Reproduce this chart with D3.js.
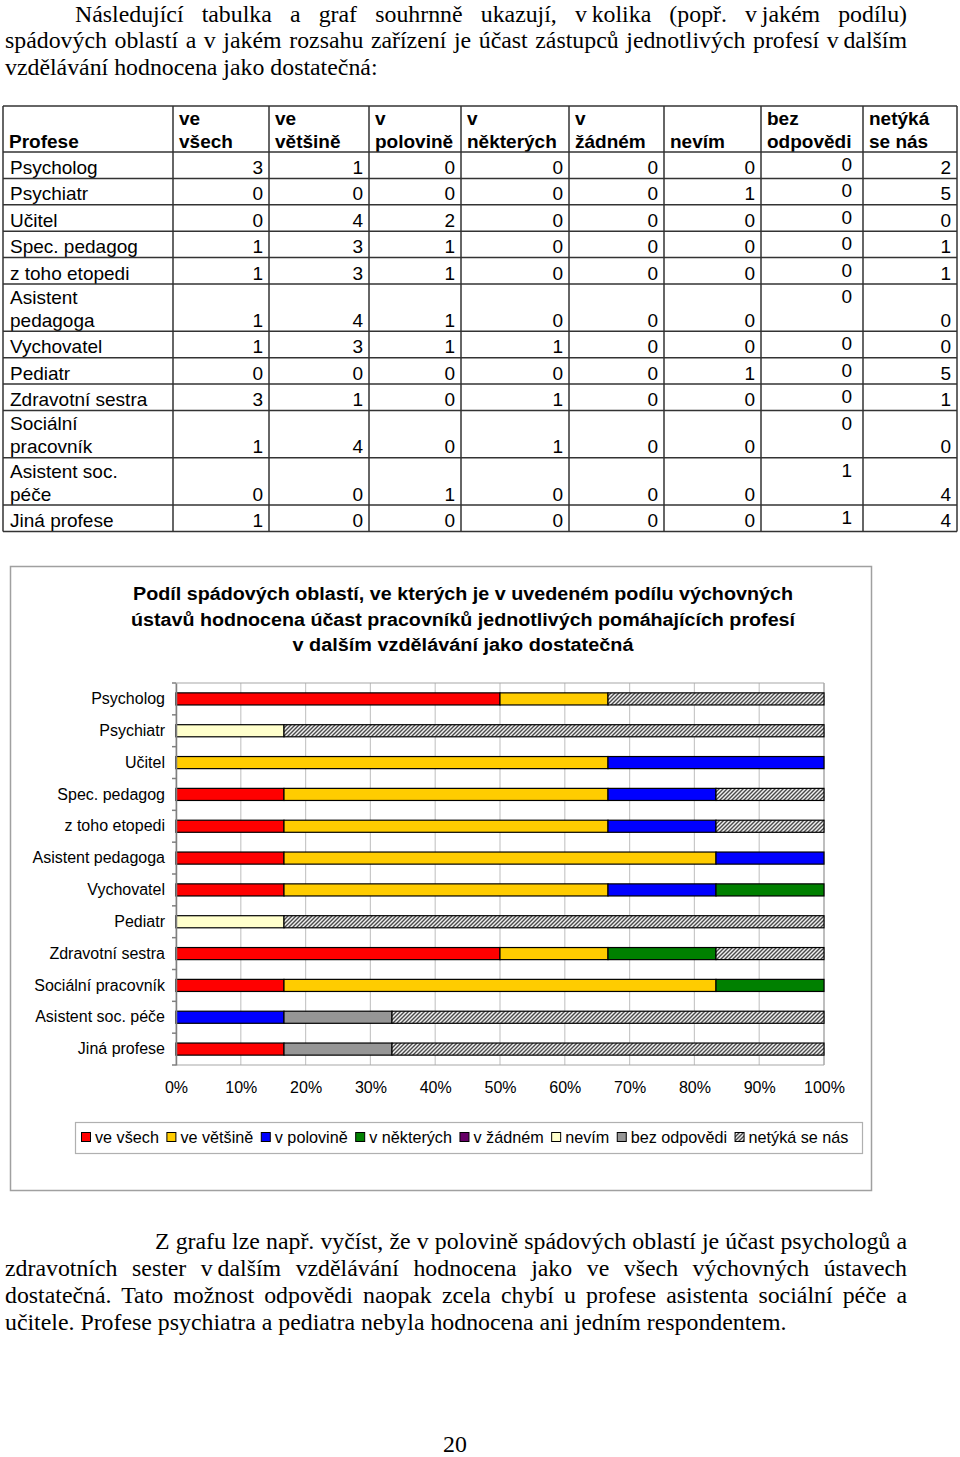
<!DOCTYPE html>
<html><head><meta charset="utf-8">
<script src="https://cdn.jsdelivr.net/npm/d3@7/dist/d3.min.js"></script>
<style>
html,body{margin:0;padding:0;background:#fff;}
svg{display:block;}
</style></head>
<body>
<svg id="page" width="960" height="1457"></svg>
<script>
// ---------- DATA ----------
const professions = ["Psycholog","Psychiatr","Učitel","Spec. pedagog","z toho etopedi","Asistent pedagoga","Vychovatel","Pediatr","Zdravotní sestra","Sociální pracovník","Asistent soc. péče","Jiná profese"];
const tableLabels = [["Psycholog"],["Psychiatr"],["Učitel"],["Spec. pedagog"],["z toho etopedi"],["Asistent","pedagoga"],["Vychovatel"],["Pediatr"],["Zdravotní sestra"],["Sociální","pracovník"],["Asistent soc.","péče"],["Jiná profese"]];
const seriesNames = ["ve všech","ve většině","v polovině","v některých","v žádném","nevím","bez odpovědi","netýká se nás"];
const headerLines = [["Profese"],["ve","všech"],["ve","většině"],["v","polovině"],["v","některých"],["v","žádném"],["nevím"],["bez","odpovědi"],["netýká","se nás"]];
const veVsech     = [3,0,0,1,1,1,1,0,3,1,0,1];
const veVetsine   = [1,0,4,3,3,4,3,0,1,4,0,0];
const vPolovine   = [0,0,2,1,1,1,1,0,0,0,1,0];
const vNekterych  = [0,0,0,0,0,0,1,0,1,1,0,0];
const vZadnem     = [0,0,0,0,0,0,0,0,0,0,0,0];
const nevim       = [0,1,0,0,0,0,0,1,0,0,0,0];
const bezOdpovedi = [0,0,0,0,0,0,0,0,0,0,1,1];
const netykaSeNas = [2,5,0,1,1,0,0,5,1,0,4,4];
const seriesValues = [veVsech,veVetsine,vPolovine,vNekterych,vZadnem,nevim,bezOdpovedi,netykaSeNas];
const seriesColors = ["#ff0000","#ffcc00","#0000ff","#008000","#660066","#ffffcc","#969696","url(#hatch)"];
const xTicks = [0,0.1,0.2,0.3,0.4,0.5,0.6,0.7,0.8,0.9,1];
const chartTitle = ["Podíl spádových oblastí, ve kterých je v uvedeném podílu výchovných","ústavů hodnocena účast pracovníků jednotlivých pomáhajících profesí","v dalším vzdělávání jako dostatečná"];
const para1 = ["Následující tabulka a graf souhrnně ukazují, v\u2009kolika (popř. v\u2009jakém podílu)","spádových oblastí a v jakém rozsahu zařízení je účast zástupců jednotlivých profesí v\u2009dalším","vzdělávání hodnocena jako dostatečná:"];
const para2 = ["Z grafu lze např. vyčíst, že v polovině spádových oblastí je účast psychologů a","zdravotních sester v\u2009dalším vzdělávání hodnocena jako ve všech výchovných ústavech","dostatečná. Tato možnost odpovědi naopak zcela chybí u profese asistenta sociální péče a","učitele. Profese psychiatra a pediatra nebyla hodnocena ani jedním respondentem."];

const svg = d3.select("#page");
const defs = svg.append("defs");
const pat = defs.append("pattern").attr("id","hatch").attr("patternUnits","userSpaceOnUse")
  .attr("width",4).attr("height",4);
pat.append("rect").attr("width",4).attr("height",4).attr("fill","#f0f0f0");
pat.append("path").attr("d","M-1,1 L1,-1 M0,4 L4,0 M3,5 L5,3").attr("stroke","#4a4a4a").attr("stroke-width",1.4);

// ---------- SERIF TEXT ----------
const serif = "'Liberation Serif','Times New Roman',serif";
const fs = 23.5;
function measure(txt){
  const t = svg.append("text").attr("font-family",serif).attr("font-size",fs).text(txt);
  const w = t.node().getComputedTextLength(); t.remove(); return w;
}
const sx = 782 / measure(para2[3]);
function serifLine(txt, x, y, target){
  const g = svg.append("g").attr("transform",`translate(${x},${y}) scale(${sx},1)`);
  const t = g.append("text").attr("font-family",serif).attr("font-size",fs).attr("fill","#000").text(txt);
  if(target){
    const nat = t.node().getComputedTextLength();
    const n = (txt.match(/ /g)||[]).length;
    t.attr("word-spacing",(target/sx - nat)/n);
  }
}
serifLine(para1[0],75,21.5,832);
serifLine(para1[1],5,48,902);
serifLine(para1[2],5,75,null);
serifLine(para2[0],155,1249,752);
serifLine(para2[1],5,1276,902);
serifLine(para2[2],5,1303,902);
serifLine(para2[3],5,1330,null);
svg.append("g").attr("transform",`translate(455,1452) scale(${sx},1)`).append("text")
  .attr("font-family",serif).attr("font-size",fs).attr("text-anchor","middle").text("20");

// ---------- TABLE ----------
const sans = "Arial,'Liberation Sans',sans-serif";
const colX = [3,173,269,369,461,569,664,761,863,957];
const headTop = 106, headBot = 152;
const rowH = tableLabels.map(l => l.length>1 ? 47.3 : 26.4);
const rowY = [headBot]; rowH.forEach((h,i)=>rowY.push(rowY[i]+h));
const tb = svg.append("g");
headerLines.forEach((lines,c)=>{
  lines.forEach((ln,k)=>{
    const base = headBot - 4 - (lines.length-1-k)*23;
    tb.append("text").attr("x",colX[c]+6).attr("y",base).attr("font-family",sans)
      .attr("font-weight","bold").attr("font-size",19).text(ln);
  });
});
tableLabels.forEach((lines,r)=>{
  const bot = rowY[r+1], top = rowY[r];
  lines.forEach((ln,k)=>{
    tb.append("text").attr("x",colX[0]+7).attr("y",bot-4.5-(lines.length-1-k)*23)
      .attr("font-family",sans).attr("font-size",19).text(ln);
  });
  seriesValues.forEach((vals,c)=>{
    const isBez = c===6;
    tb.append("text").attr("x",colX[c+2]-(isBez?11:6)).attr("y",isBez? top+19 : bot-4.5)
      .attr("text-anchor","end").attr("font-family",sans).attr("font-size",19).text(vals[r]);
  });
});
const tLines = tb.append("g").attr("stroke","#333").attr("stroke-width",1.5);
colX.forEach(x=>tLines.append("line").attr("x1",x).attr("x2",x).attr("y1",headTop).attr("y2",rowY[rowY.length-1]));
[headTop].concat(rowY).forEach(y=>tLines.append("line").attr("x1",colX[0]).attr("x2",colX[colX.length-1]).attr("y1",y).attr("y2",y));

// ---------- CHART ----------
svg.append("rect").attr("x",10.5).attr("y",566.5).attr("width",861).attr("height",624)
  .attr("fill","#fff").attr("stroke","#a0a0a0").attr("stroke-width",1.5);
const titleW = [660,664,341], titleY = [600,626,651];
chartTitle.forEach((t,i)=>{
  svg.append("text").attr("x",463).attr("y",titleY[i]).attr("text-anchor","middle")
    .attr("font-family",sans).attr("font-weight","bold").attr("font-size",18)
    .attr("textLength",titleW[i]).attr("lengthAdjust","spacingAndGlyphs").text(t);
});
const x = d3.scaleLinear().domain([0,1]).range([176,824]);
const y = d3.scaleBand().domain(professions).range([683,1065]).paddingInner(0.62).paddingOuter(0.31);
const plot = svg.append("g");
plot.selectAll("line.grid").data(xTicks).join("line").attr("class","grid")
  .attr("x1",d=>x(d)).attr("x2",d=>x(d)).attr("y1",683).attr("y2",1065)
  .attr("stroke","#c8c8c8").attr("stroke-width",1.2);
plot.append("line").attr("x1",x(0)).attr("x2",x(1)).attr("y1",683).attr("y2",683).attr("stroke","#a8a8a8").attr("stroke-width",1.2);
plot.append("line").attr("x1",x(0)).attr("x2",x(1)).attr("y1",1065).attr("y2",1065).attr("stroke","#a8a8a8").attr("stroke-width",1.2);
plot.append("line").attr("x1",x(1)).attr("x2",x(1)).attr("y1",683).attr("y2",1065).attr("stroke","#a8a8a8").attr("stroke-width",1.2);

const rows = professions.map((p,i)=>{
  const o = {prof:p}; let tot=0;
  seriesNames.forEach((s,k)=>{o[s]=seriesValues[k][i]; tot+=seriesValues[k][i];});
  seriesNames.forEach(s=>o[s]/=tot);
  return o;
});
const stack = d3.stack().keys(seriesNames)(rows);
stack.forEach((layer,k)=>{
  plot.append("g").selectAll("rect").data(layer.filter(d=>d[1]-d[0]>1e-9)).join("rect")
    .attr("x",d=>x(d[0])).attr("width",d=>x(d[1])-x(d[0]))
    .attr("y",d=>y(d.data.prof)).attr("height",y.bandwidth())
    .attr("fill",seriesColors[k]).attr("stroke","#000").attr("stroke-width",1.2);
});
const yAx = svg.append("g").attr("transform",`translate(${x(0)},0)`)
  .call(d3.axisLeft(y).tickSize(0).tickPadding(11));
yAx.select(".domain").attr("stroke","#808080").attr("stroke-width",1.5);
yAx.selectAll("text").attr("font-family",sans).attr("font-size",16).attr("fill","#000");
const sepY = d3.range(professions.length+1).map(i=>683+i*(1065-683)/professions.length);
svg.append("g").selectAll("line").data(sepY).join("line")
  .attr("x1",x(0)-4).attr("x2",x(0)).attr("y1",d=>d).attr("y2",d=>d)
  .attr("stroke","#808080").attr("stroke-width",1.5);
const xAx = svg.append("g").attr("transform","translate(0,1065)")
  .call(d3.axisBottom(x).tickValues(xTicks).tickFormat(d3.format(".0%")).tickSize(0).tickPadding(17));
xAx.select(".domain").remove();
xAx.selectAll("text").attr("font-family",sans).attr("font-size",16).attr("fill","#000");

// legend
svg.append("rect").attr("x",75.5).attr("y",1122.5).attr("width",787).attr("height",31)
  .attr("fill","#fff").attr("stroke","#b0b0b0").attr("stroke-width",1.2);
let lx = 81;
seriesNames.forEach((s,k)=>{
  svg.append("rect").attr("x",lx+0.5).attr("y",1132.5).attr("width",9).attr("height",9)
    .attr("fill",seriesColors[k]).attr("stroke","#000").attr("stroke-width",1);
  const t = svg.append("text").attr("x",lx+14).attr("y",1143).attr("font-family",sans)
    .attr("font-size",16.2).text(s);
  lx += 14 + t.node().getComputedTextLength() + 7.5;
});
</script>
</body></html>
